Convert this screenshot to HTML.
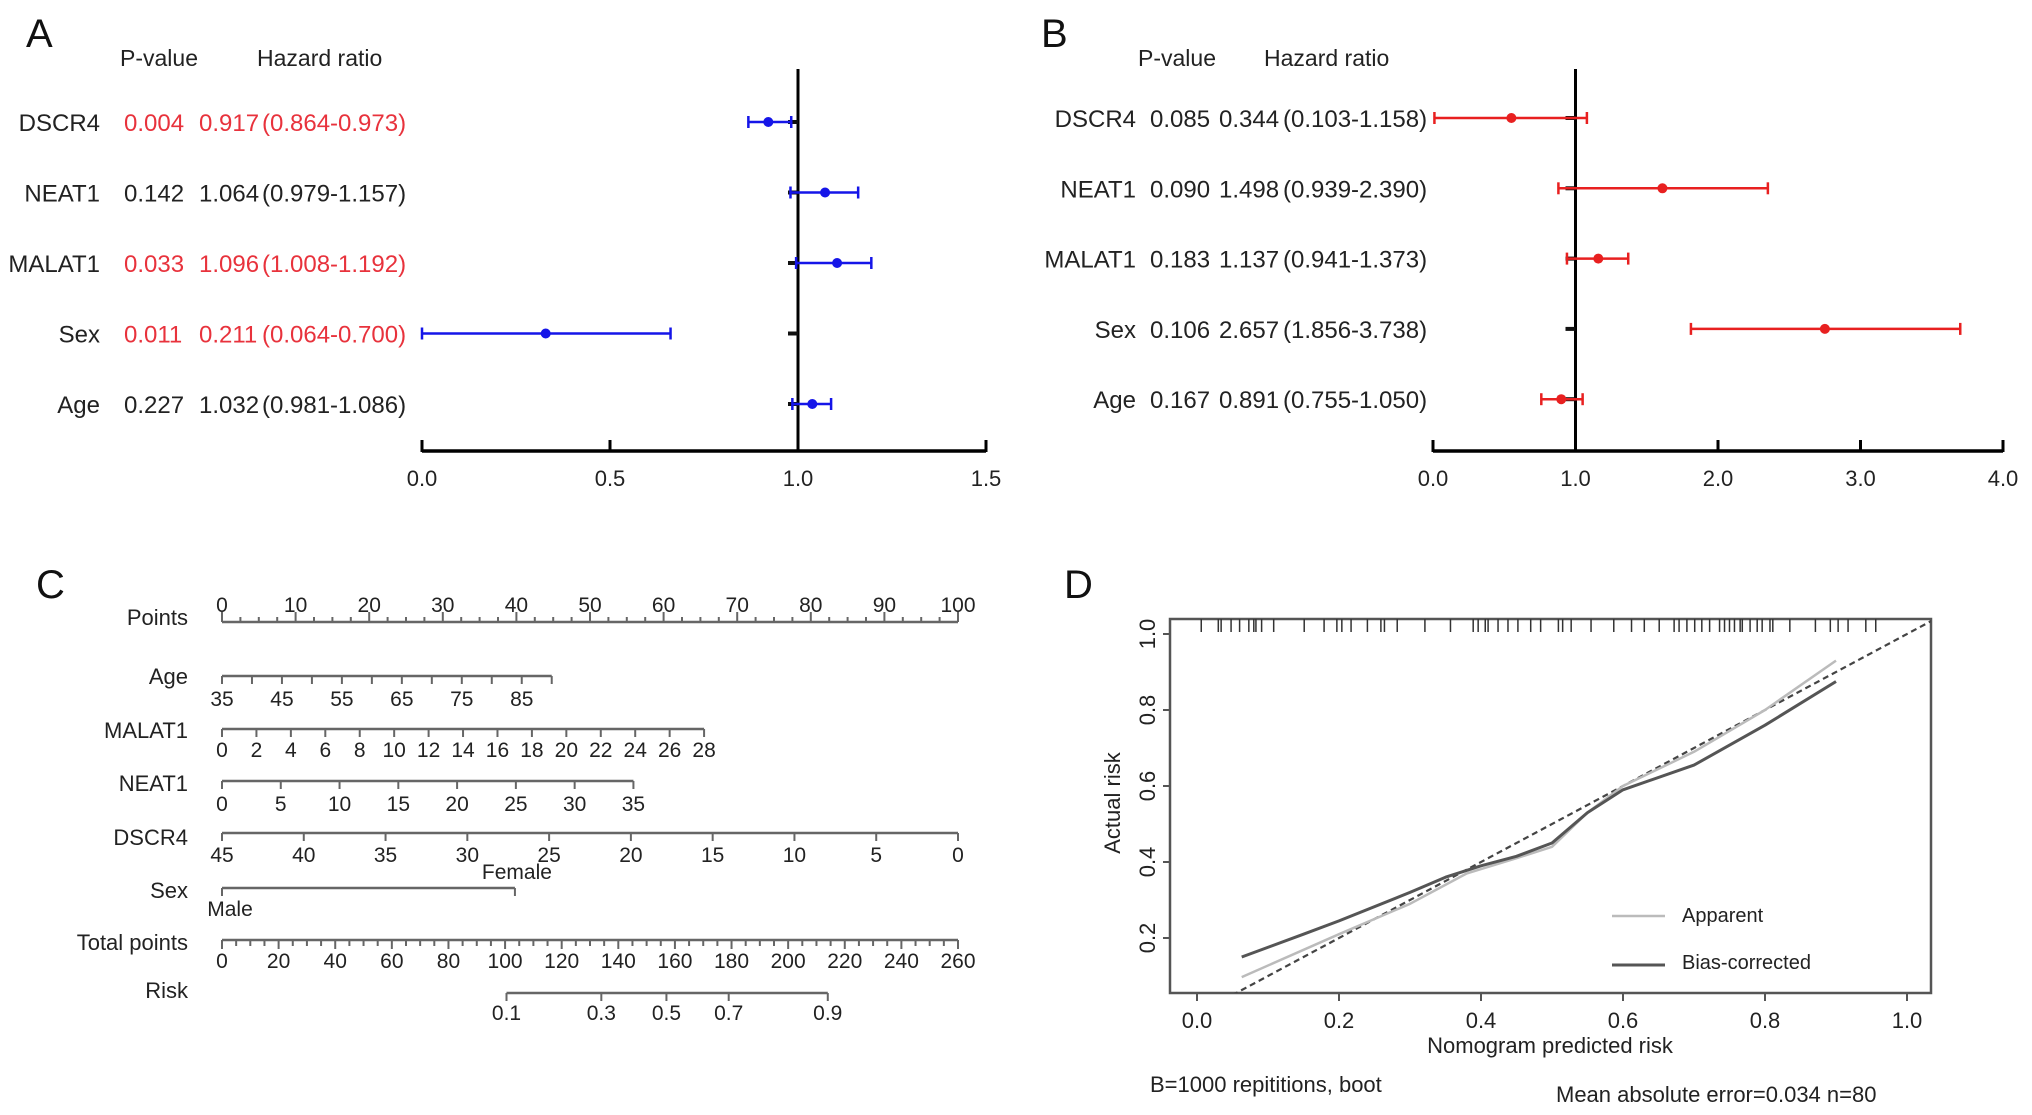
<!DOCTYPE html>
<html><head><meta charset="utf-8"><style>
html,body{margin:0;padding:0;background:#fff;}
svg{display:block;font-family:"Liberation Sans",Arial,sans-serif;}
</style></head><body>
<svg id="fig" width="2032" height="1115" viewBox="0 0 2032 1115" xmlns="http://www.w3.org/2000/svg">
<g id="pA"></g>
<g id="pB"></g>
<g id="pC"></g>
<g id="pD"></g>
</svg>
<script>
// ---------- Panel A data ----------
const aVars = ["DSCR4","NEAT1","MALAT1","Sex","Age"];
const aPval = ["0.004","0.142","0.033","0.011","0.227"];
const aHRtxt = ["0.917","1.064","1.096","0.211","1.032"];
const aCItxt = ["(0.864-0.973)","(0.979-1.157)","(1.008-1.192)","(0.064-0.700)","(0.981-1.086)"];
const aSig = [true,false,true,true,false];
const aEst = [0.921,1.072,1.104,0.329,1.038];
const aLo = [0.868,0.980,0.995,0.0,0.985];
const aHi = [0.982,1.160,1.195,0.661,1.088];
const aTicks = [0.0,0.5,1.0,1.5];
const aTickLabels = ["0.0","0.5","1.0","1.5"];
// ---------- Panel B data ----------
const bVars = ["DSCR4","NEAT1","MALAT1","Sex","Age"];
const bPval = ["0.085","0.090","0.183","0.106","0.167"];
const bHRtxt = ["0.344","1.498","1.137","2.657","0.891"];
const bCItxt = ["(0.103-1.158)","(0.939-2.390)","(0.941-1.373)","(1.856-3.738)","(0.755-1.050)"];
const bEst = [0.55,1.61,1.16,2.75,0.90];
const bLo = [0.01,0.88,0.94,1.81,0.76];
const bHi = [1.08,2.35,1.37,3.70,1.05];
const bTicks = [0,1,2,3,4];
const bTickLabels = ["0.0","1.0","2.0","3.0","4.0"];
// ---------- Panel C data ----------
const cPointsLabels = [0,10,20,30,40,50,60,70,80,90,100];
const cAgeTicks = [35,40,45,50,55,60,65,70,75,80,85,90];
const cAgeLabels = [35,45,55,65,75,85];
const cMalatLabels = [0,2,4,6,8,10,12,14,16,18,20,22,24,26,28];
const cNeatLabels = [0,5,10,15,20,25,30,35];
const cDscrLabels = [45,40,35,30,25,20,15,10,5,0];
const cSexPoints = [0,39.8]; // Male, Female in points
const cTotalLabels = [0,20,40,60,80,100,120,140,160,180,200,220,240,260];
const cRiskLabels = ["0.1","0.3","0.5","0.7","0.9"];
const cRiskTotals = [100.5,134,157,179,214];
// ---------- Panel D data ----------
const dXTicks = [0,0.2,0.4,0.6,0.8,1.0];
const dXTickLabels = ["0.0","0.2","0.4","0.6","0.8","1.0"];
const dYTicks = [0.2,0.4,0.6,0.8,1.0];
const dYTickLabels = ["0.2","0.4","0.6","0.8","1.0"];
const dAppX = [0.063,0.2,0.3,0.38,0.45,0.5,0.55,0.6,0.7,0.8,0.9];
const dAppY = [0.097,0.21,0.29,0.37,0.41,0.44,0.53,0.60,0.69,0.80,0.93];
const dBiasX = [0.063,0.15,0.2,0.3,0.35,0.4,0.45,0.5,0.55,0.6,0.7,0.8,0.9];
const dBiasY = [0.15,0.21,0.245,0.32,0.36,0.39,0.415,0.45,0.53,0.59,0.655,0.76,0.875];
const dRug = [0.006,0.030,0.034,0.048,0.060,0.073,0.080,0.083,0.091,0.108,0.151,0.179,0.197,0.204,0.217,0.240,0.259,0.264,0.282,0.321,0.357,0.389,0.396,0.406,0.410,0.424,0.438,0.452,0.470,0.484,0.509,0.515,0.527,0.555,0.587,0.612,0.630,0.651,0.672,0.679,0.690,0.701,0.711,0.722,0.736,0.743,0.750,0.757,0.765,0.768,0.779,0.789,0.796,0.807,0.811,0.835,0.871,0.892,0.903,0.917,0.942,0.956];

const NS="http://www.w3.org/2000/svg";
function mk(parent,tag,attrs,text){const e=document.createElementNS(NS,tag);for(const k in attrs)e.setAttribute(k,attrs[k]);if(text!==undefined)e.textContent=text;parent.appendChild(e);return e;}

// ---------- Forest plot builder ----------
function forest(g,cfg){
  const t=mk(g,'text',{x:cfg.letterX,y:47,'font-size':40,fill:'#111'},cfg.letter);
  
  
  let h=mk(g,'text',{x:cfg.pX,y:66,'font-size':23,fill:'#222'},'P-value');
  
  
  h=mk(g,'text',{x:cfg.hrHX,y:66,'font-size':23,fill:'#222'},'Hazard ratio');
  
  
  const sx=v=>cfg.x0+(v-cfg.d0)/(cfg.d1-cfg.d0)*(cfg.x1-cfg.x0);
  const axY=451;
  // ref line
  const rl=mk(g,'line',{x1:sx(1),x2:sx(1),y1:69,y2:axY,stroke:'#000','stroke-width':3});
  
  
  cfg.vars.forEach((v,i)=>{
    const cy=cfg.row0+i*cfg.rowStep, by=cy+9;
    const col=cfg.sig&&cfg.sig[i]?'#e8323c':'#222';
    let e=mk(g,'text',{x:cfg.labX,y:by,'font-size':24,'text-anchor':'end',fill:'#222'},v);
    
    
    e=mk(g,'text',{x:cfg.pvX,y:by,'font-size':24,fill:col},cfg.pval[i]);
    
    
    e=mk(g,'text',{x:cfg.hrX,y:by,'font-size':24,fill:col},cfg.hr[i]);
    
    
    e=mk(g,'text',{x:cfg.ciX,y:by,'font-size':24,fill:col},cfg.ci[i]);
    
    
    // black stub at 1.0
    e=mk(g,'line',{x1:sx(1)-10,x2:sx(1),y1:cy,y2:cy,stroke:'#111','stroke-width':4});
    
    
    const ci=mk(g,'g',{});
    
    
    mk(ci,'line',{x1:sx(cfg.lo[i]),x2:sx(cfg.hi[i]),y1:cy,y2:cy,stroke:cfg.color,'stroke-width':2.5});
    mk(ci,'line',{x1:sx(cfg.lo[i]),x2:sx(cfg.lo[i]),y1:cy-6,y2:cy+6,stroke:cfg.color,'stroke-width':2.5});
    mk(ci,'line',{x1:sx(cfg.hi[i]),x2:sx(cfg.hi[i]),y1:cy-6,y2:cy+6,stroke:cfg.color,'stroke-width':2.5});
    const p=mk(g,'circle',{cx:sx(cfg.est[i]),cy:cy,r:5,fill:cfg.color});
    
    
  });
  const ax=mk(g,'g',{});
  
  
  mk(ax,'line',{x1:sx(cfg.d0),x2:sx(cfg.d1),y1:axY,y2:axY,stroke:'#000','stroke-width':3.5});
  cfg.ticks.forEach((tv,i)=>{
    mk(ax,'line',{x1:sx(tv),x2:sx(tv),y1:axY-11,y2:axY+1,stroke:'#000','stroke-width':3});
    const tl=mk(ax,'text',{x:sx(tv),y:486,'font-size':22,'text-anchor':'middle',fill:'#222'},cfg.tickLabels[i]);
    
    
  });
}
forest(document.getElementById('pA'),{letter:'A',letterX:26,pX:120,hrHX:257,labX:100,pvX:124,hrX:199,ciX:262,
  row0:122,rowStep:70.5,vars:aVars,pval:aPval,hr:aHRtxt,ci:aCItxt,sig:aSig,est:aEst,lo:aLo,hi:aHi,
  x0:422,x1:986,d0:0,d1:1.5,ticks:aTicks,tickLabels:aTickLabels,color:'#1515e8'});
forest(document.getElementById('pB'),{letter:'B',letterX:1041,pX:1138,hrHX:1264,labX:1136,pvX:1150,hrX:1219,ciX:1283,
  row0:118,rowStep:70.3,vars:bVars,pval:bPval,hr:bHRtxt,ci:bCItxt,sig:null,est:bEst,lo:bLo,hi:bHi,
  x0:1433,x1:2003,d0:0,d1:4,ticks:bTicks,tickLabels:bTickLabels,color:'#e82020'});

// ---------- Panel C nomogram ----------
(function(){
  const g=document.getElementById('pC');
  const px=p=>222+p*7.36; // points -> x
  const L=mk(g,'text',{x:36,y:598,'font-size':40,fill:'#111'},'C');
  
  
  const gray='#666';
  function label(txt,y){const e=mk(g,'text',{x:188,y:y,'font-size':22,'text-anchor':'end',fill:'#222'},txt);
    
    }
  function scale(name,y,xs,labels,labelXs,labY,tickDir){
    const s=mk(g,'g',{});
    
    
    mk(s,'line',{x1:Math.min(...xs),x2:Math.max(...xs),y1:y,y2:y,stroke:gray,'stroke-width':2.5});
    xs.forEach(x=>mk(s,'line',{x1:x,x2:x,y1:y,y2:y+tickDir*8,stroke:gray,'stroke-width':2}));
    labels.forEach((t,i)=>{const e=mk(s,'text',{x:labelXs[i],y:labY,'font-size':21,'text-anchor':'middle',fill:'#222'},t);
      
      });
  }
  // Points
  label('Points',625);
  const ps=mk(g,'g',{});
  
  
  mk(ps,'line',{x1:px(0),x2:px(100),y1:622,y2:622,stroke:gray,'stroke-width':2.5});
  for(let p=0;p<=100;p+=2.5){const maj=(p%10===0);mk(ps,'line',{x1:px(p),x2:px(p),y1:622,y2:maj?612:617,stroke:gray,'stroke-width':2});}
  cPointsLabels.forEach(p=>{const e=mk(ps,'text',{x:px(p),y:612,'font-size':21,'text-anchor':'middle',fill:'#222'},String(p));
    
    });
  // Age: 35..90 -> 0..44.8 pts
  const ageX=a=>px((a-35)/55*44.8);
  label('Age',684);
  scale('age-scale',676,cAgeTicks.map(ageX),cAgeLabels.map(String),cAgeLabels.map(ageX),706,1);
  // MALAT1: 0..28 -> 0..65.5
  const malX=m=>px(m/28*65.5);
  label('MALAT1',738);
  scale('malat1-scale',729,cMalatLabels.map(malX),cMalatLabels.map(String),cMalatLabels.map(malX),757,1);
  // NEAT1: 0..35 -> 0..55.9
  const neX=n=>px(n/35*55.9);
  label('NEAT1',791);
  scale('neat1-scale',781,cNeatLabels.map(neX),cNeatLabels.map(String),cNeatLabels.map(neX),811,1);
  // DSCR4: 45..0 -> 0..100
  const dsX=d=>px((45-d)/45*100);
  label('DSCR4',845);
  scale('dscr4-scale',833,cDscrLabels.map(dsX),cDscrLabels.map(String),cDscrLabels.map(dsX),862,1);
  // Sex
  label('Sex',898);
  const sxs=cSexPoints.map(px);
  const ss=mk(g,'g',{});
  
  
  mk(ss,'line',{x1:sxs[0],x2:sxs[1],y1:888,y2:888,stroke:gray,'stroke-width':2.5});
  sxs.forEach(x=>mk(ss,'line',{x1:x,x2:x,y1:888,y2:896,stroke:gray,'stroke-width':2}));
  let e=mk(ss,'text',{x:sxs[0]+8,y:916,'font-size':21,'text-anchor':'middle',fill:'#222'},'Male');
  
  
  e=mk(ss,'text',{x:sxs[1]+2,y:879,'font-size':21,'text-anchor':'middle',fill:'#222'},'Female');
  
  
  // Total points 0..260
  const tX=t=>px(t/260*100);
  label('Total points',950);
  const ts=mk(g,'g',{});
  
  
  mk(ts,'line',{x1:tX(0),x2:tX(260),y1:940,y2:940,stroke:gray,'stroke-width':2.5});
  for(let t=0;t<=260;t+=5){mk(ts,'line',{x1:tX(t),x2:tX(t),y1:940,y2:t%20===0?949:946,stroke:gray,'stroke-width':2});}
  cTotalLabels.forEach(t=>{const e=mk(ts,'text',{x:tX(t),y:968,'font-size':21,'text-anchor':'middle',fill:'#222'},String(t));
    
    });
  // Risk
  label('Risk',998);
  scale('risk-scale',993,cRiskTotals.map(tX),cRiskLabels,cRiskTotals.map(tX),1020,1);
})();

// ---------- Panel D calibration ----------
(function(){
  const g=document.getElementById('pD');
  const X=v=>1197+v*710, Y=v=>938-(v-0.2)*380;
  const L=mk(g,'text',{x:1064,y:598,'font-size':40,fill:'#111'},'D');
  
  
  const clip=mk(g,'clipPath',{id:'dclip'});
  mk(clip,'rect',{x:1170,y:619,width:761,height:374});
  const box=mk(g,'rect',{x:1170,y:619,width:761,height:374,fill:'none',stroke:'#555','stroke-width':2.5});
  
  
  const xa=mk(g,'g',{});
  
  
  dXTicks.forEach((v,i)=>{mk(xa,'line',{x1:X(v),x2:X(v),y1:993,y2:1001,stroke:'#555','stroke-width':2});
    const t=mk(xa,'text',{x:X(v),y:1028,'font-size':22,'text-anchor':'middle',fill:'#222'},dXTickLabels[i]);
    
    });
  const ya=mk(g,'g',{});
  
  
  dYTicks.forEach((v,i)=>{mk(ya,'line',{x1:1163,x2:1170,y1:Y(v),y2:Y(v),stroke:'#555','stroke-width':2});
    const t=mk(ya,'text',{x:1155,y:Y(v),'font-size':22,'text-anchor':'middle',fill:'#222',transform:`rotate(-90 1155 ${Y(v)})`},dYTickLabels[i]);
    
    });
  let t=mk(g,'text',{x:1120,y:803,'font-size':22,'text-anchor':'middle',fill:'#222',transform:'rotate(-90 1120 803)'},'Actual risk');
  
  
  t=mk(g,'text',{x:1550,y:1053,'font-size':22,'text-anchor':'middle',fill:'#222'},'Nomogram predicted risk');
  
  
  t=mk(g,'text',{x:1150,y:1092,'font-size':22,fill:'#222'},'B=1000 repititions, boot');
  
  
  t=mk(g,'text',{x:1556,y:1102,'font-size':22,fill:'#222'},'Mean absolute error=0.034 n=80');
  
  
  // rug
  const rug=mk(g,'g',{});
  
  
  dRug.forEach(v=>mk(rug,'line',{x1:X(v),x2:X(v),y1:619,y2:632,stroke:'#333','stroke-width':1.5}));
  const pl=mk(g,'g',{'clip-path':'url(#dclip)'});
  let l=mk(pl,'line',{x1:X(0),y1:Y(0),x2:X(1.1),y2:Y(1.1),stroke:'#444','stroke-width':2.2,'stroke-dasharray':'6,4'});
  
  
  const path=(xs,ys)=>xs.map((x,i)=>(i?'L':'M')+X(x).toFixed(1)+','+Y(ys[i]).toFixed(1)).join(' ');
  l=mk(pl,'path',{d:path(dAppX,dAppY),fill:'none',stroke:'#bbb','stroke-width':2.5,'stroke-linejoin':'round'});
  
  
  l=mk(pl,'path',{d:path(dBiasX,dBiasY),fill:'none',stroke:'#555','stroke-width':3,'stroke-linejoin':'round'});
  
  
  // legend
  const lg=mk(g,'g',{});
  
  
  let le=mk(lg,'g',{});
  
  
  mk(le,'line',{x1:1612,x2:1665,y1:916,y2:916,stroke:'#bbb','stroke-width':2.5});
  mk(le,'text',{x:1682,y:922,'font-size':20,fill:'#222'},'Apparent');
  le=mk(lg,'g',{});
  
  
  mk(le,'line',{x1:1612,x2:1665,y1:965,y2:965,stroke:'#555','stroke-width':3});
  mk(le,'text',{x:1682,y:969,'font-size':20,fill:'#222'},'Bias-corrected');
})();
</script>
</body></html>
